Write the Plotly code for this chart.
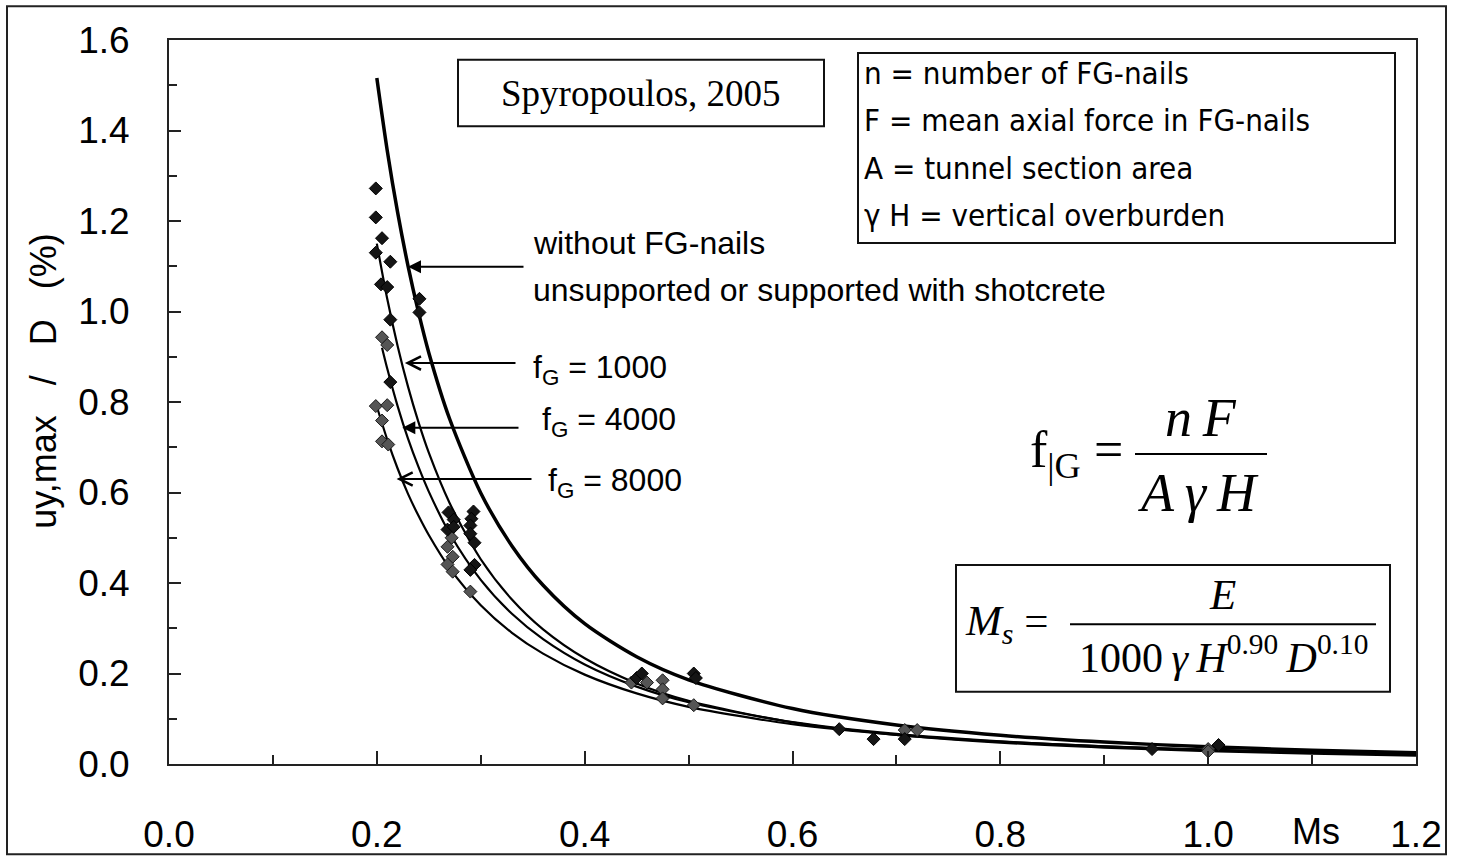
import plotly.graph_objects as go

# ---- fitted curves: uy,max/D (%) against Ms ----
ms_grid = [0.20, 0.21, 0.22, 0.23, 0.24, 0.25, 0.27, 0.30, 0.33, 0.36, 0.40,
           0.45, 0.50, 0.60, 0.70, 0.80, 0.90, 1.00, 1.10, 1.20]
ms_grid_4000 = [0.205, 0.21, 0.22, 0.23, 0.24, 0.25, 0.27, 0.30, 0.33, 0.36, 0.40,
                0.45, 0.50, 0.60, 0.70, 0.80, 0.90, 1.00, 1.10, 1.20]
curve_no_nails = [1.516, 1.356, 1.219, 1.101, 0.999, 0.909, 0.763, 0.599, 0.482, 0.395, 0.310,
                  0.237, 0.186, 0.1225, 0.0861, 0.0634, 0.0484, 0.0380, 0.0306, 0.0250]
curve_fg1000 = [1.150, 1.028, 0.924, 0.834, 0.756, 0.688, 0.577, 0.4525, 0.3635, 0.2975, 0.2336,
                0.1781, 0.1397, 0.0919, 0.0645, 0.0474, 0.0362, 0.0284, 0.0228, 0.0187]
curve_fg4000 = [0.920, 0.874, 0.791, 0.719, 0.657, 0.602, 0.510, 0.407, 0.332, 0.276, 0.220,
                0.171, 0.1365, 0.0924, 0.0664, 0.0499, 0.0388, 0.0310, 0.0253, 0.0210]
curve_fg8000 = [0.790, 0.717, 0.653, 0.597, 0.549, 0.506, 0.433, 0.351, 0.290, 0.244, 0.1975,
                0.156, 0.1264, 0.0878, 0.0645, 0.0494, 0.0390, 0.0316, 0.0261, 0.0219]

# ---- measured cases ----
ms_dark = [0.199, 0.199, 0.205, 0.199, 0.213, 0.204, 0.210, 0.241, 0.241, 0.213, 0.213,
           0.269, 0.274, 0.268, 0.274, 0.293, 0.291, 0.290, 0.290, 0.294, 0.294, 0.290,
           0.450, 0.455, 0.505, 0.507, 0.645, 0.678, 0.708, 0.946, 1.010]
uy_dark = [1.272, 1.208, 1.162, 1.130, 1.110, 1.060, 1.054, 1.028, 0.998, 0.982, 0.844,
           0.556, 0.540, 0.518, 0.524, 0.558, 0.542, 0.527, 0.509, 0.489, 0.440, 0.429,
           0.190, 0.200, 0.200, 0.190, 0.077, 0.055, 0.055, 0.033, 0.042]
ms_grey = [0.205, 0.210, 0.199, 0.210, 0.205, 0.205, 0.211,
           0.272, 0.268, 0.273, 0.268, 0.273, 0.290,
           0.445, 0.460, 0.475, 0.475, 0.475, 0.505, 0.708, 0.720, 1.000, 1.000]
uy_grey = [0.943, 0.926, 0.791, 0.793, 0.759, 0.713, 0.706,
           0.500, 0.480, 0.458, 0.441, 0.425, 0.381,
           0.180, 0.180, 0.185, 0.165, 0.145, 0.130, 0.075, 0.075, 0.033, 0.028]

x_ticks = [0.0, 0.2, 0.4, 0.6, 0.8, 1.0, 1.2]
y_ticks = [0.0, 0.2, 0.4, 0.6, 0.8, 1.0, 1.2, 1.4, 1.6]

# ---- page geometry ----
W, H = 1457, 867
ML, MR, MT, MB = 169, 41, 40, 96
PW, PH = W - ML - MR, H - MT - MB


def px_x(p):
    return (p - ML) / PW


def px_y(p):
    return (H - MB - p) / PH


def data_px(v):
    return ML + v / 1.2 * PW


SANS = "Liberation Sans, Arial, sans-serif"
SERIF = "Liberation Serif, Times New Roman, serif"
TAHOMA = "DejaVu Sans Condensed, Tahoma, Liberation Sans, sans-serif"

fig = go.Figure()

for xs, ys, w in [(ms_grid, curve_no_nails, 3.5), (ms_grid, curve_fg1000, 2.2),
                  (ms_grid_4000, curve_fg4000, 2.2), (ms_grid, curve_fg8000, 2.2)]:
    fig.add_trace(go.Scatter(x=xs, y=ys, mode="lines",
                             line=dict(color="black", width=w, shape="spline", smoothing=0.8),
                             showlegend=False, hoverinfo="skip"))

fig.add_trace(go.Scatter(x=ms_grey, y=uy_grey, mode="markers", showlegend=False,
                         marker=dict(symbol="diamond", size=10, color="#555555",
                                     line=dict(color="#1a1a1a", width=1))))
fig.add_trace(go.Scatter(x=ms_dark, y=uy_dark, mode="markers", showlegend=False,
                         marker=dict(symbol="diamond", size=10, color="#151515",
                                     line=dict(color="#000000", width=1))))

shapes = [
    # outer frame
    dict(type="rect", xref="paper", yref="paper", x0=px_x(7), x1=px_x(1446),
         y0=px_y(862), y1=px_y(6), line=dict(color="#222", width=2)),
    # source box
    dict(type="rect", xref="paper", yref="paper", x0=px_x(458), x1=px_x(824),
         y0=px_y(127), y1=px_y(60), line=dict(color="#111", width=2)),
    # definitions box
    dict(type="rect", xref="paper", yref="paper", x0=px_x(858), x1=px_x(1395),
         y0=px_y(245), y1=px_y(53), line=dict(color="#111", width=2)),
    # Ms formula box
    dict(type="rect", xref="paper", yref="paper", x0=px_x(956), x1=px_x(1390),
         y0=px_y(698), y1=px_y(570), line=dict(color="#111", width=2)),
    # fraction bars
    dict(type="line", xref="paper", yref="paper", x0=px_x(1135), x1=px_x(1267),
         y0=px_y(458), y1=px_y(458), line=dict(color="black", width=2)),
    dict(type="line", xref="paper", yref="paper", x0=px_x(1070), x1=px_x(1376),
         y0=px_y(630), y1=px_y(630), line=dict(color="black", width=2)),
]

ann = []


def text(x, y, s, size, family=SANS, xanchor="left", yanchor="middle", **kw):
    ann.append(dict(x=px_x(x), y=px_y(y), xref="paper", yref="paper", text=s,
                    showarrow=False, xanchor=xanchor, yanchor=yanchor,
                    font=dict(family=family, size=size, color="black"), **kw))


def arrow(ms, uy, tail_px, head):
    ann.append(dict(x=ms, y=uy, xref="x", yref="y", text="", showarrow=True,
                    ax=tail_px - data_px(ms), ay=0, arrowhead=head, arrowsize=1.3,
                    arrowwidth=2, arrowcolor="black"))


# labels with arrows
text(531, 245, "without FG-nails", 32)
text(531, 292, "unsupported or supported with shotcrete", 32)
text(531, 373, "f<sub>G</sub> = 1000", 32)
text(540, 425, "f<sub>G</sub> = 4000", 32)
text(546, 487, "f<sub>G</sub> = 8000", 32)
arrow(0.230, 1.099, 525, 2)
arrow(0.227, 0.886, 517, 5)
arrow(0.2245, 0.743, 520, 2)
arrow(0.219, 0.630, 533, 5)

# source
text(641, 94, "Spyropoulos, 2005", 37, family=SERIF, xanchor="center")

# definitions
text(862, 73, "n = number of FG-nails", 31, family=TAHOMA)
text(862, 121, "F = mean axial force in FG-nails", 31, family=TAHOMA)
text(862, 169, "A = tunnel section area", 31, family=TAHOMA)
text(862, 217, "\u03b3 H = vertical overburden", 31, family=TAHOMA)

# fG formula
text(1028, 458, "f<sub>|G</sub>\u00a0=", 52, family=SERIF)
text(1201, 422, "<i>n\u2009F</i>", 54, family=SERIF, xanchor="center")
text(1198, 497, "<i>A\u2009\u03b3\u2009H</i>", 54, family=SERIF, xanchor="center")

# Ms formula
text(963, 630, "<i>M</i><sub><i>s</i></sub>\u00a0=", 43, family=SERIF)
text(1222, 600, "<i>E</i>", 43, family=SERIF, xanchor="center")
text(1223, 660, "1000\u2009<i>\u03b3\u2009H</i><sup>0.90</sup>\u2009<i>D</i><sup>0.10</sup>", 42,
     family=SERIF, xanchor="center")

# axis titles
text(1316, 839, "Ms", 36, xanchor="center")
text(44, 385, "uy,max\u00a0\u00a0\u00a0/\u00a0\u00a0\u00a0D\u00a0\u00a0\u00a0(%)", 36,
     xanchor="center", textangle=-90)

fig.update_layout(
    width=W, height=H,
    margin=dict(l=ML, r=MR, t=MT, b=MB),
    paper_bgcolor="white", plot_bgcolor="white",
    shapes=shapes, annotations=ann,
    xaxis=dict(range=[0, 1.2], tickvals=x_ticks, tickformat=".1f",
               ticks="inside", ticklen=13, tickwidth=2, tickcolor="#222",
               minor=dict(dtick=0.1, ticks="inside", ticklen=9, tickwidth=1.5, tickcolor="#222"),
               showline=True, linecolor="#222", linewidth=2, mirror=True,
               showgrid=False, zeroline=False, ticklabelstandoff=37,
               tickfont=dict(family=SANS, size=37, color="black")),
    yaxis=dict(range=[0, 1.6], tickvals=y_ticks, tickformat=".1f",
               ticks="inside", ticklen=12, tickwidth=2, tickcolor="#222",
               minor=dict(dtick=0.1, ticks="inside", ticklen=8, tickwidth=1.5, tickcolor="#222"),
               showline=True, linecolor="#222", linewidth=2, mirror=True,
               showgrid=False, zeroline=False, ticklabelstandoff=30,
               tickfont=dict(family=SANS, size=37, color="black")),
)

fig.write_html("out.html")
